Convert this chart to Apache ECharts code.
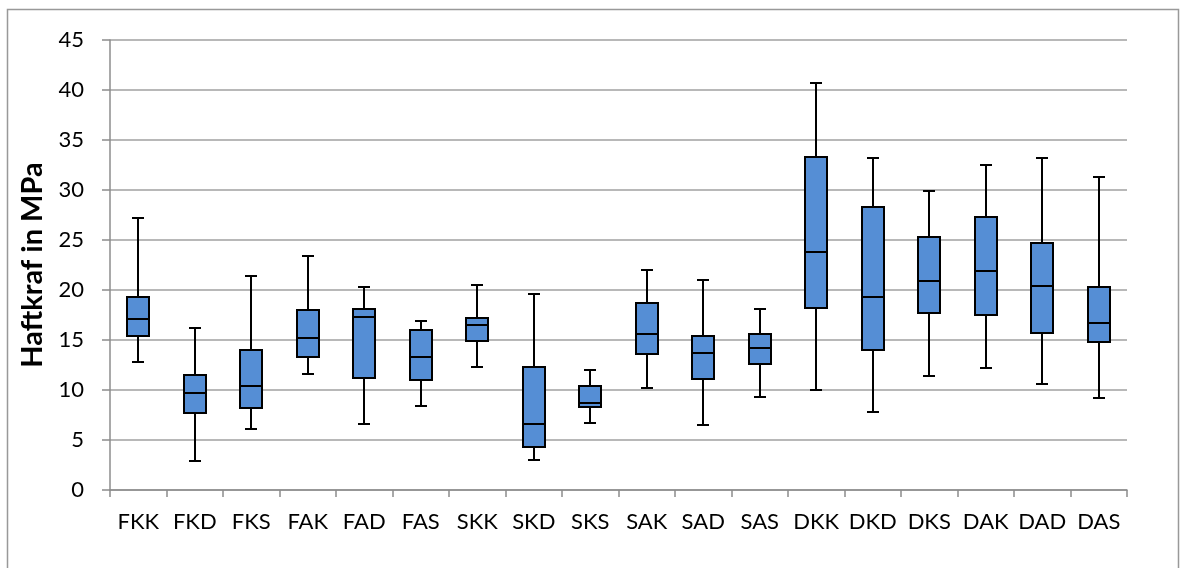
<!DOCTYPE html>
<html>
<head>
<meta charset="utf-8">
<script src="https://cdn.jsdelivr.net/npm/echarts@6/dist/echarts.min.js"></script>
<style>html,body{margin:0;padding:0;background:#fff;}#c{width:1181px;height:568px;}</style>
</head>
<body>
<div id="c"></div>
<script>
const categories = ['FKK','FKD','FKS','FAK','FAD','FAS','SKK','SKD','SKS','SAK','SAD','SAS','DKK','DKD','DKS','DAK','DAD','DAS'];
const minVals    = [12.8, 2.9, 6.1, 11.6, 6.6, 8.4, 12.3, 3.0, 6.7, 10.2, 6.5, 9.3, 10.0, 7.8, 11.4, 12.2, 10.6, 9.2];
const q1Vals     = [15.4, 7.7, 8.2, 13.3, 11.2, 11.0, 14.9, 4.3, 8.3, 13.6, 11.1, 12.6, 18.2, 14.0, 17.7, 17.5, 15.7, 14.8];
const medianVals = [17.1, 9.7, 10.4, 15.2, 17.3, 13.3, 16.5, 6.6, 8.7, 15.6, 13.7, 14.2, 23.8, 19.3, 20.9, 21.9, 20.4, 16.7];
const q3Vals     = [19.3, 11.5, 14.0, 18.0, 18.1, 16.0, 17.2, 12.3, 10.4, 18.7, 15.4, 15.6, 33.3, 28.3, 25.3, 27.3, 24.7, 20.3];
const maxVals    = [27.2, 16.2, 21.4, 23.4, 20.3, 16.9, 20.5, 19.6, 12.0, 22.0, 21.0, 18.1, 40.7, 33.2, 29.9, 32.5, 33.2, 31.3];
const yTicks = { min: 0, max: 45, interval: 5 };

const data = categories.map((c, i) => [i, minVals[i], q1Vals[i], medianVals[i], q3Vals[i], maxVals[i]]);

const chart = echarts.init(document.getElementById('c'));
const fontFam = 'Lato, "Open Sans", sans-serif';
const BOX_W = 22, CAP_W = 12;

chart.setOption({
  animation: false,
  backgroundColor: '#fff',
  graphic: [{
    type: 'rect', shape: { x: 7.5, y: 9.5, width: 1171, height: 570 },
    style: { fill: 'none', stroke: '#999', lineWidth: 1.5 }, silent: true, z: -1
  }],
  grid: { left: 110, right: 54, top: 40, bottom: 78 },
  xAxis: {
    type: 'category',
    data: categories,
    boundaryGap: true,
    axisLine: { lineStyle: { color: '#8c8c8c', width: 1.5 } },
    axisTick: { show: true, length: 7, lineStyle: { color: '#8c8c8c', width: 1.5 } },
    axisLabel: { color: '#000', fontSize: 22, fontFamily: fontFam, margin: 21, interval: 0 },
    splitLine: { show: false }
  },
  yAxis: {
    type: 'value',
    min: yTicks.min, max: yTicks.max, interval: yTicks.interval,
    name: 'Haftkraf in MPa',
    nameLocation: 'middle',
    nameGap: 60,
    nameRotate: 90,
    nameTextStyle: { color: '#000', fontSize: 29, fontWeight: 'bold', fontFamily: fontFam },
    axisLine: { show: true, lineStyle: { color: '#8c8c8c', width: 1.5 } },
    axisTick: { show: true, length: 8, lineStyle: { color: '#8c8c8c', width: 1.5 } },
    axisLabel: { color: '#000', fontSize: 22, fontFamily: fontFam, margin: 26 },
    splitLine: { show: true, lineStyle: { color: '#a0a0a0', width: 1.5 } }
  },
  series: [{
    type: 'custom',
    data: data,
    encode: { x: 0, y: [1, 2, 3, 4, 5] },
    renderItem: function (params, api) {
      const idx = api.value(0);
      const pMin = api.coord([idx, api.value(1)]);
      const pQ1 = api.coord([idx, api.value(2)]);
      const pMed = api.coord([idx, api.value(3)]);
      const pQ3 = api.coord([idx, api.value(4)]);
      const pMax = api.coord([idx, api.value(5)]);
      const x = Math.round(pMin[0]);
      const lineStyle = { stroke: '#000', lineWidth: 2 };
      return {
        type: 'group',
        children: [
          { type: 'line', shape: { x1: x, y1: pMin[1], x2: x, y2: pQ1[1] }, style: lineStyle },
          { type: 'line', shape: { x1: x, y1: pQ3[1], x2: x, y2: pMax[1] }, style: lineStyle },
          { type: 'line', shape: { x1: x - CAP_W / 2, y1: pMin[1], x2: x + CAP_W / 2, y2: pMin[1] }, style: lineStyle },
          { type: 'line', shape: { x1: x - CAP_W / 2, y1: pMax[1], x2: x + CAP_W / 2, y2: pMax[1] }, style: lineStyle },
          { type: 'rect', shape: { x: x - BOX_W / 2, y: pQ3[1], width: BOX_W, height: pQ1[1] - pQ3[1] },
            style: { fill: '#558ed5', stroke: '#000', lineWidth: 2 } },
          { type: 'line', shape: { x1: x - BOX_W / 2, y1: pMed[1], x2: x + BOX_W / 2, y2: pMed[1] }, style: lineStyle }
        ]
      };
    }
  }]
});
</script>
</body>
</html>
